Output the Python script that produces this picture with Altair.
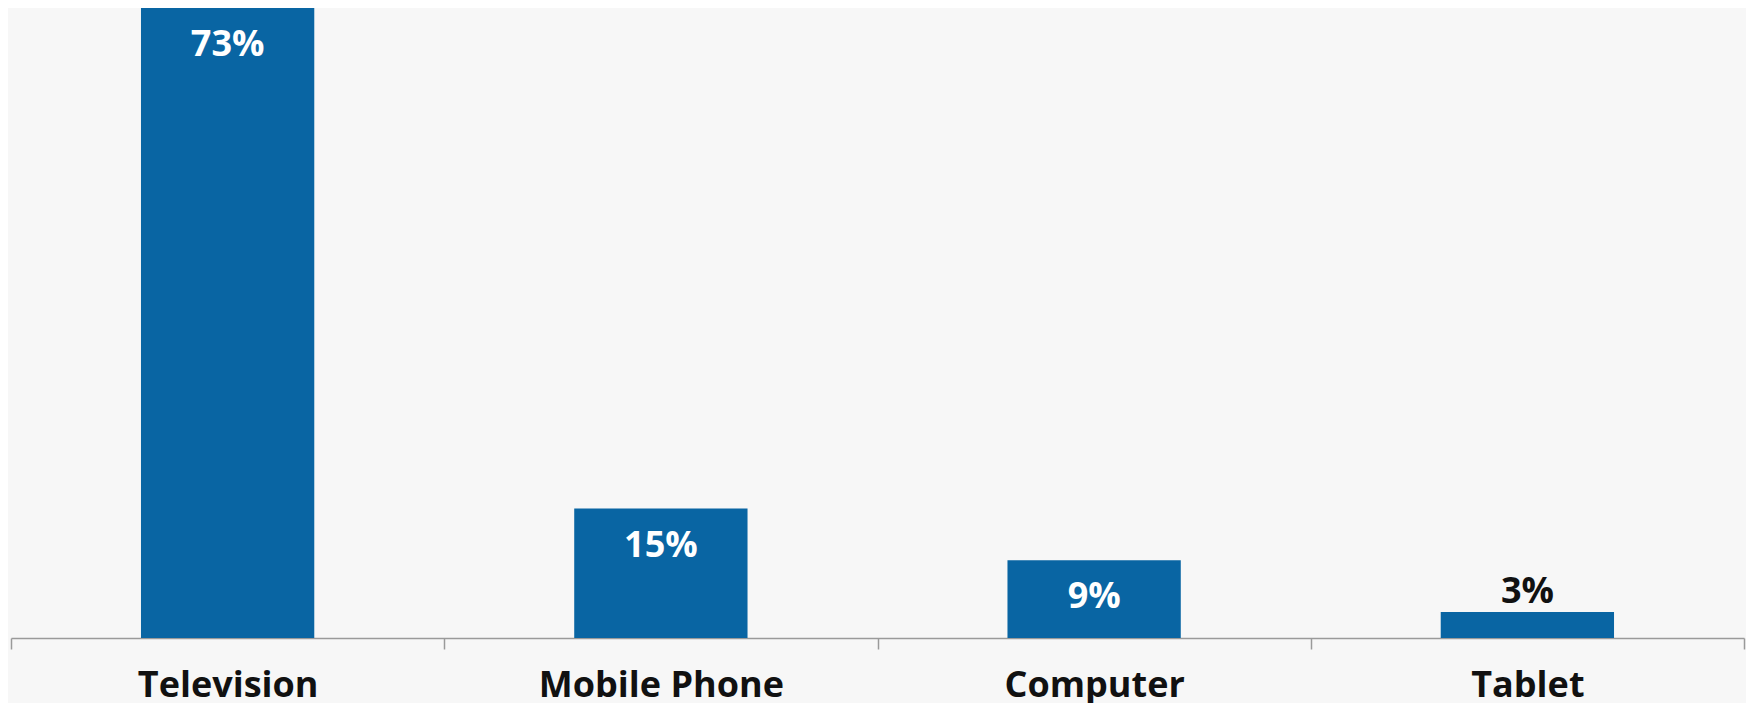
import altair as alt
import pandas as pd

categories = ["Television", "Mobile Phone", "Computer", "Tablet"]
values = [73, 15, 9, 3]
labels = ["73%", "15%", "9%", "3%"]

df = pd.DataFrame({"device": categories, "share": values, "label": labels})
df["inside"] = df["share"] >= 5

FONT = "Open Sans"
BAR = "#0965a3"

x = alt.X("device:N", sort=categories,
          scale=alt.Scale(paddingInner=0, paddingOuter=0),
          axis=alt.Axis(title=None, labelAngle=0, labelFont=FONT, labelFontSize=36,
                        labelFontWeight="bold", labelColor="#111111", labelLimit=0,
                        labelBaseline="alphabetic", labelPadding=47,
                        tickBand="extent", tickSize=11, tickColor="#9a9a9a",
                        tickWidth=1.5, domainColor="#9a9a9a", domainWidth=1.5,
                        grid=False))
y = alt.Y("share:Q", scale=alt.Scale(domain=[0, 73], nice=False, zero=True), axis=None)

bars = alt.Chart(df).mark_bar(color=BAR, width=alt.RelativeBandSize(0.4)).encode(x=x, y=y)

inside = alt.Chart(df).transform_filter("datum.inside").mark_text(
    font=FONT, fontSize=36, fontWeight="bold", color="white",
    baseline="alphabetic", dy=48).encode(x=x, y=y, text="label:N")

outside = alt.Chart(df).transform_filter("!datum.inside").mark_text(
    font=FONT, fontSize=36, fontWeight="bold", color="#111111",
    baseline="alphabetic", dy=-9).encode(x=x, y=y, text="label:N")

chart = alt.layer(bars, inside, outside).properties(
    width=1733, height=630, background="#f7f7f7",
    padding={"left": 3, "top": 0, "right": 2, "bottom": 66},
    autosize=alt.AutoSizeParams(type="none"),
).configure_view(stroke=None)

chart.save("out.html", embed_options={"renderer": "svg", "actions": False})
